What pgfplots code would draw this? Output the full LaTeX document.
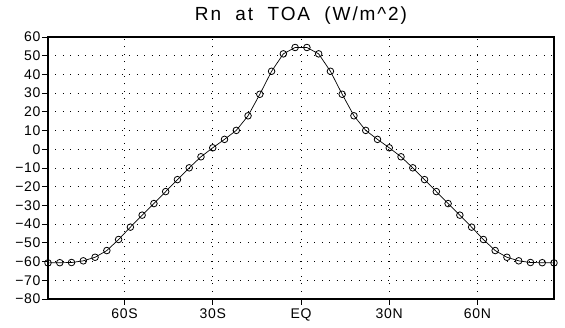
\documentclass[border=0pt]{standalone}
\usepackage{fontspec}
\setmainfont{Liberation Sans}
\newfontfamily\titlefont[LetterSpace=10,WordSpace=2]{Liberation Sans}
\newfontfamily\tickfont[LetterSpace=5]{Liberation Sans}
\usepackage{pgfplots}
\pgfplotsset{compat=1.18}
\begin{document}
\begin{tikzpicture}
\begin{axis}[
  scale only axis,
  width=506bp, height=262bp,
  xmin=-86, xmax=86, ymin=-80, ymax=60,
  xtick={-60,-30,0,30,60},
  xticklabels={60S,30S,EQ,30N,60N},
  ytick={-80,-70,-60,-50,-40,-30,-20,-10,0,10,20,30,40,50,60},
  yticklabels={−80,−70,−60,−50,−40,−30,−20,−10,0,10,20,30,40,50,60},
  tick align=outside,
  major tick length=6bp,
  tick style={black, line width=0.8bp},
  xtick pos=bottom, ytick pos=left,
  ticklabel style={font=\tickfont\fontsize{14bp}{16bp}\selectfont},
  yticklabel style={xshift=2bp},
  xticklabel style={yshift=0bp},
  grid=major,
  major grid style={black, line width=0.9bp, dash pattern=on 0.9bp off 6.5bp},
  axis line style={black, line width=1.6bp},
  clip=false,
]
\coordinate (sw) at (rel axis cs:0,0);
\addplot[black, line width=0.7bp, mark=o, mark size=3.3bp,
  mark options={fill=white, line width=0.8bp}] coordinates {
(-86,-60.7) (-82,-60.6) (-78,-60.5) (-74,-59.6) (-70,-57.7) (-66,-54.1)
(-62,-48.2) (-58,-41.6) (-54,-35.2) (-50,-29.0) (-46,-22.6) (-42,-16.2)
(-38,-9.9) (-34,-4.0) (-30,0.8) (-26,5.3) (-22,10.1) (-18,17.9)
(-14,29.4) (-10,41.7) (-6,51.0) (-2,54.4)
(2,54.4) (6,51.0) (10,41.7) (14,29.4) (18,17.9) (22,10.1)
(26,5.3) (30,0.8) (34,-4.0) (38,-9.9) (42,-16.2) (46,-22.6)
(50,-29.0) (54,-35.2) (58,-41.6) (62,-48.2) (66,-54.1) (70,-57.7)
(74,-59.6) (78,-60.5) (82,-60.6) (86,-60.7)
};
\node[anchor=center, font=\titlefont\fontsize{19bp}{22bp}\selectfont] at ([yshift=21bp]rel axis cs:0.5,1) {Rn at TOA (W/m\^{}2)};
\end{axis}
\pgfresetboundingbox
\path (sw) ++(-48bp,-29bp) rectangle ++(565bp,328bp);
\end{tikzpicture}
\end{document}
